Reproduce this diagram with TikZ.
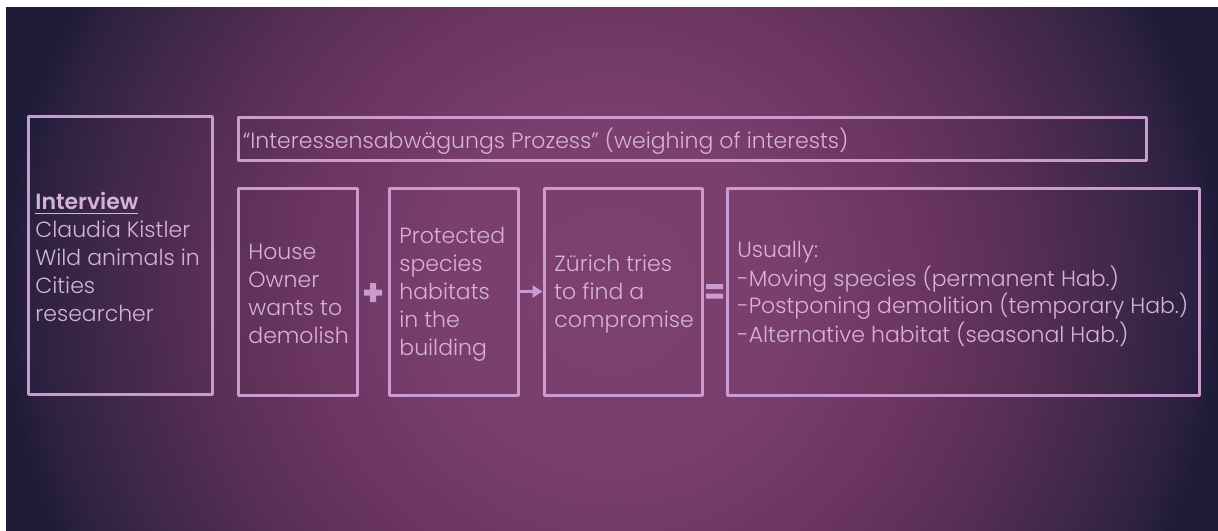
\documentclass[tikz,border=0pt]{standalone}
\usepackage{fontspec}
\IfFontExistsTF{Poppins Light}
  {\setmainfont{Poppins}[UprightFont={* Light},BoldFont={* SemiBold}]}
  {\setmainfont{Poppins}}
\usetikzlibrary{arrows.meta,positioning}
\definecolor{lilac}{HTML}{C99BD0}
\definecolor{lilactext}{HTML}{D6B2D8}
\definecolor{glowA}{HTML}{7D406F}
\definecolor{glowB}{HTML}{7A3F6D}
\definecolor{glowC}{HTML}{6A3560}
\definecolor{glowD}{HTML}{582E55}
\definecolor{glowE}{HTML}{3F2848}
\definecolor{glowF}{HTML}{2C2040}
\definecolor{glowG}{HTML}{1E1C38}
\pgfdeclareradialshading{slideglow}{\pgfpoint{0bp}{0bp}}{color(0bp)=(glowA); color(7bp)=(glowB); color(13bp)=(glowC); color(17bp)=(glowD); color(21bp)=(glowE); color(24bp)=(glowF); color(25bp)=(glowG); color(50bp)=(glowG)}
\begin{document}
\begin{tikzpicture}[x=0.5pt,y=-0.5pt,>={Triangle[length=5pt,width=6pt]},line join=round,
	box/.style={draw=lilac,line width=1.5pt,inner sep=0pt},
	txt/.style={text=lilactext,align=left,inner sep=0pt,anchor=west,yshift=-1.2pt,font=\fontsize{11}{14}\selectfont}]
	\def\H{103.5pt}
	% slide background
	\fill[white] (0,0) rectangle (1218,530);
	\begin{scope}
		\clip (6,7) rectangle (1218,530);
		\shade[shading=slideglow] (6,-310) rectangle (1218,890);
	\end{scope}
	\useasboundingbox (0,0) rectangle (1218,530);
	% boxes
	\node[box,minimum width=92pt,minimum height=139pt] (iv) at (120,255) {};
	\node[box,minimum width=454pt,minimum height=21.5pt] (banner) at (692,138.5) {};
	\node[box,minimum width=59.5pt,minimum height=\H] (owner) at (297.5,291.5) {};
	\node[box,minimum width=64.5pt,minimum height=\H] (species) at (453.5,291.5) {};
	\node[box,minimum width=79pt,minimum height=\H] (zurich) at (623,291.5) {};
	\node[box,minimum width=236pt,minimum height=\H] (result) at (963,291.5) {};
	% texts
	\node[txt] (iv-t) at ([xshift=4.25pt]iv.west) {\underline{\textbf{Interview}}\\Claudia Kistler\\Wild animals in\\Cities\\researcher};
	\node[txt] (banner-t) at ([xshift=3pt]banner.west) {“Interessensabwägungs Prozess” (weighing of interests)};
	\node[txt] (owner-t) at ([xshift=5.75pt]owner.west) {House\\Owner\\wants to\\demolish};
	\node[txt] (species-t) at ([xshift=5.75pt]species.west) {Protected\\species\\habitats\\in the\\building};
	\node[txt] (zurich-t) at ([xshift=5.75pt]zurich.west) {Zürich tries\\to find a\\compromise};
	\node[txt] (result-t) at ([xshift=5.75pt]result.west) {Usually:\\-Moving species (permanent Hab.)\\-Postponing demolition (temporary Hab.)\\-Alternative habitat (seasonal Hab.)};
	% operators
	\fill[lilac] (364,289.5) rectangle (382,295.5) (370,283) rectangle (376,302);
	\fill[lilac] (706,284) rectangle (723,289) (706,293.5) rectangle (723,298.5);
	\draw[->,lilac,line width=1.5pt] (species) -- (zurich);
\end{tikzpicture}
\end{document}
